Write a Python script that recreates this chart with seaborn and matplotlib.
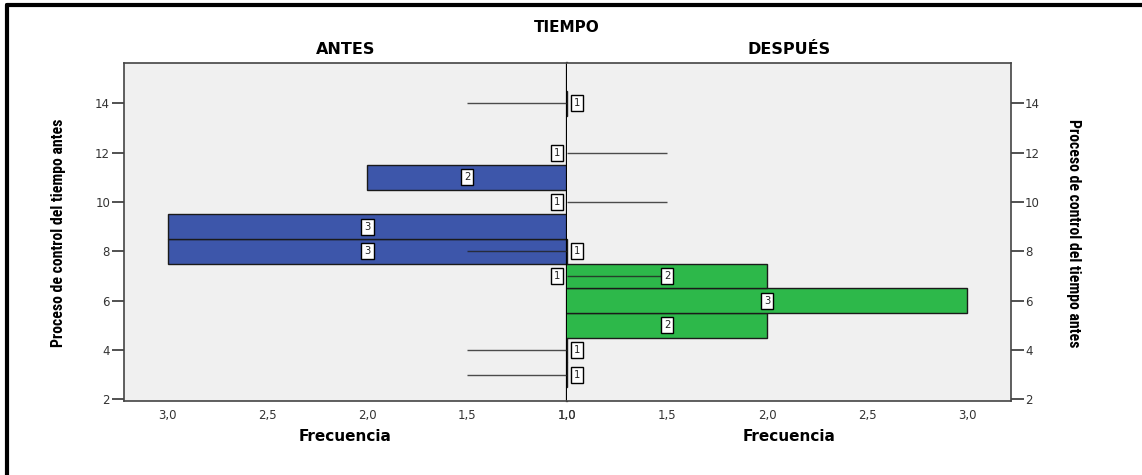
import matplotlib
matplotlib.use("Agg")
import matplotlib.pyplot as plt
from matplotlib import font_manager
from matplotlib.font_manager import FontProperties
import seaborn as sns
import pandas as pd

# ---- data ----
values = [3, 4, 5, 6, 7, 8, 9, 10, 11, 12, 13, 14]
antes = [0, 0, 0, 0, 1, 3, 3, 1, 2, 1, 0, 0]
despues = [1, 1, 2, 3, 2, 1, 0, 0, 0, 0, 0, 1]
y_ticks = [2, 4, 6, 8, 10, 12, 14]
x_ticks = [1.0, 1.5, 2.0, 2.5, 3.0]
x_ticklabels = ["1,0", "1,5", "2,0", "2,5", "3,0"]
title = "TIEMPO"
panel_titles = ["ANTES", "DESPUÉS"]
xlabel = "Frecuencia"
ylabel = "Proceso de control del tiempo antes"

BLUE = "#3D56AA"
GREEN = "#2DB84A"
BG = "#F0F0F0"

sns.set_theme(style="white")
plt.rcParams["font.family"] = ["DejaVu Sans"]
plt.rcParams["text.color"] = "black"
plt.rcParams["axes.labelcolor"] = "black"


def _is_bold(w):
    try:
        return int(w) >= 600
    except (TypeError, ValueError):
        return str(w).lower() in ("bold", "heavy", "black", "demibold", "semibold", "extra bold")


def pick_condensed():
    prefs = ["Liberation Sans Narrow", "Roboto Condensed", "DejaVu Sans",
             "Noto Sans", "Open Sans", "Roboto", "Inter", "Lato"]
    cands = [f for f in font_manager.fontManager.ttflist
             if str(f.stretch).lower() in ("condensed", "semi-condensed", "extra-condensed")
             or "narrow" in f.name.lower() or "condensed" in f.name.lower()]
    cands_b = [f for f in cands if _is_bold(f.weight)] or cands
    for p in prefs:
        for f in cands_b:
            if f.name == p and f.style == "normal":
                return f.fname
    for f in cands_b:
        if f.style == "normal":
            return f.fname
    return None


cond_path = pick_condensed()
if cond_path:
    ylab_fp = FontProperties(fname=cond_path, size=11.4)
else:
    ylab_fp = FontProperties(family="Liberation Sans", weight="bold", size=10)

fig = plt.figure(figsize=(11.42, 4.75), dpi=100)
W, H = 1142, 475


def fx(px):
    return px / W


def fy(py):
    return 1 - py / H


left, right, top, bottom = 124, 1011, 63, 401
center = 567
axL = fig.add_axes([fx(left), fy(bottom), fx(center - left), fy(top) - fy(bottom)])
axR = fig.add_axes([fx(center), fy(bottom), fx(right - center), fy(top) - fy(bottom)])

df = pd.DataFrame({"value": values, "antes": antes, "despues": despues})

panels = [(axL, "antes", BLUE, "despues"), (axR, "despues", GREEN, "antes")]
for ax, col, color, other in panels:
    ax.set_facecolor(BG)
    sub = df[df[col] > 0]
    sns.barplot(data=sub, x=col, y="value", orient="h", native_scale=True,
                width=1.0, color=color, edgecolor="#1a1a1a", linewidth=1.0,
                saturation=1, ax=ax, zorder=2)
    ax.set_xlim(1.0, 3.22)
    ax.set_ylim(1.93, 15.63)
    ax.set_xticks(x_ticks)
    ax.set_xticklabels(x_ticklabels)
    ax.set_yticks(y_ticks)
    ax.set_xlabel(xlabel, fontsize=11, fontweight="bold", labelpad=5, color="black")
    ax.set_ylabel("")
    ax.tick_params(axis="y", labelsize=8.5, colors="#333333", length=9,
                   width=1.2, direction="out", pad=1)
    ax.tick_params(axis="x", labelsize=8.5, colors="#333333", length=4,
                   width=2, direction="out", pad=2)
    for s in ax.spines.values():
        s.set_color("#444444")
        s.set_linewidth(1.2)
    ax.grid(False)
    # thin marks for single counts of the other group
    ones_other = df[df[other] == 1]["value"]
    ax.hlines(ones_other, 1.0, 1.5, color="#222222", linewidth=1.0, zorder=3, alpha=0.8)

axL.invert_xaxis()
axL.yaxis.tick_left()
axR.yaxis.tick_right()
axL.spines["right"].set_color("black")
axL.spines["right"].set_linewidth(1.6)
axR.spines["left"].set_visible(False)

# count labels
box = dict(boxstyle="square,pad=0.3", fc="white", ec="black", lw=1.0)
for ax, col, sign in [(axL, "antes", -1), (axR, "despues", 1)]:
    for v, c in zip(df["value"], df[col]):
        if c == 0:
            continue
        if c == 1:
            ax.annotate(str(c), xy=(1.0, v), xytext=(sign * 10, 0),
                        textcoords="offset pixels", ha="center", va="center",
                        fontsize=7.2, color="#222222", bbox=box, zorder=5)
        else:
            ax.text((1 + c) / 2, v, str(c), ha="center", va="center",
                    fontsize=7.2, color="#222222", bbox=box, zorder=5)

# titles
fig.text(fx(center), fy(27), title, ha="center", va="center", fontsize=11,
         fontweight="bold", color="black")
fig.text(fx((left + center) / 2), fy(50), panel_titles[0], ha="center", va="center",
         fontsize=11.5, fontweight="bold", color="black")
fig.text(fx((center + right) / 2), fy(50), panel_titles[1], ha="center", va="center",
         fontsize=11.5, fontweight="bold", color="black")

# y labels
fig.text(fx(59), fy(233), ylabel, rotation=90, ha="center", va="center",
         fontproperties=ylab_fp, fontweight="bold", color="black")
fig.text(fx(1073), fy(233), ylabel, rotation=270, ha="center", va="center",
         fontproperties=ylab_fp, fontweight="bold", color="black")

# outer frame (top and left edges)
fig.add_artist(plt.Line2D([fx(7), 1], [fy(5), fy(5)], color="black", lw=3))
fig.add_artist(plt.Line2D([fx(7), fx(7)], [0, fy(5)], color="black", lw=3))

fig.savefig("out.png", dpi=100)
